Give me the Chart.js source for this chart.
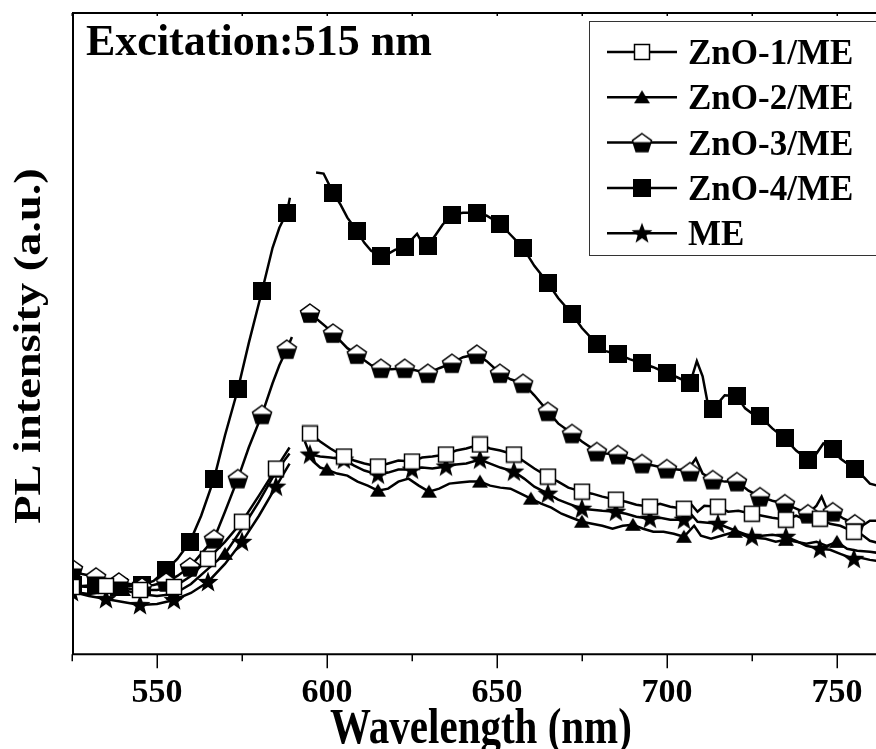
<!DOCTYPE html>
<html>
<head>
<meta charset="utf-8">
<script src="https://cdn.jsdelivr.net/npm/chart.js@4/dist/chart.umd.min.js"></script>
<style>
  body { margin: 0; background: #fff; }
  canvas { display: block; }
</style>
</head>
<body>
<canvas id="plChart" width="876" height="749"></canvas>
<script>
// PL spectra, excitation 515 nm. Intensity in arbitrary units.
var tickLabels = [550, 600, 650, 700, 750];
var seriesNames = ['ZnO-1/ME', 'ZnO-2/ME', 'ZnO-3/ME', 'ZnO-4/ME', 'ME'];

// ZnO-4/ME
var wlZnO4 = [525.3, 528, 532, 535, 539, 542, 545.6, 549, 552.7, 556,
  559.7, 563, 566.8, 570, 573.8, 577, 580.9, 584, 586, 588.2,
  589.1, 592, 596.8, 599, 601.8, 604, 606, 608.8, 611, 613,
  615.9, 618, 620, 622.9, 626.5, 628, 629.7, 632, 634, 636.8,
  640, 644.1, 647, 650.9, 654, 657.7, 661, 665, 668, 672.1,
  675, 679.4, 682, 685.6, 689, 692.7, 696, 700, 703, 706.8,
  708.8, 710.5, 712, 713.5, 717, 720.6, 723, 725, 727.4, 731,
  734.7, 738, 741.5, 744, 746, 748.8, 751, 753, 755.3, 757.5,
  759.7, 762];
var plZnO4 = [70, 68, 69, 66, 67, 68, 69, 73, 84, 95,
  112, 138, 175, 218, 264, 310, 362, 405, 425, 440,
  455, null, 480, 479, 460, 448, 435, 422, 410, 402,
  397, 399, 403, 406, 419, 410, 407, 418, 428, 438,
  440, 440, 437, 429, 418, 405, 387, 370, 355, 339,
  325, 309, 302, 299, 294, 290, 286, 280, 276, 270,
  292, 277, 250, 244, 258, 257, 245, 240, 237, 225,
  215, 203, 194, 200, 210, 204, 195, 190, 185, 178,
  170, 168];
var mkWlZnO4 = [525.3, 532.1, 538.8, 545.6, 552.7, 559.7, 566.8, 573.8, 580.9, 588.2,
  601.8, 608.8, 615.9, 622.9, 629.7, 636.8, 644.1, 650.9, 657.7, 665,
  672.1, 679.4, 685.6, 692.7, 700, 706.8, 713.5, 720.6, 727.4, 734.7,
  741.5, 748.8, 755.3];
var mkPlZnO4 = [69, 69, 67, 69, 84, 112, 175, 264, 362, 440,
  460, 422, 397, 406, 407, 438, 440, 429, 405, 370,
  339, 309, 299, 290, 280, 270, 244, 257, 237, 215,
  194, 204, 185];

// ZnO-3/ME
var wlZnO3 = [525.3, 528, 532.1, 535, 538.8, 542, 545.6, 549, 552.7, 556,
  559.7, 563, 566.8, 570, 573.8, 577, 580.9, 584, 586, 588.2,
  589.7, 592, 594, 595, 597, 599.5, 601.8, 604, 606, 608.8,
  611, 613, 615.9, 619, 622.9, 626, 629.7, 633, 636.8, 640,
  644.1, 647, 650.9, 654, 657.7, 661, 665, 668, 672.1, 675,
  679.4, 682, 685.6, 689, 692.7, 696, 700, 703, 706, 708.5,
  710.5, 713.5, 717, 720.6, 724, 727.4, 731, 734.7, 738, 741.5,
  744, 745.5, 747, 748.8, 752, 755.3, 757.5, 759.7, 762];
var plZnO3 = [83, 80, 77, 75, 72, 70, 68, 69, 72, 78,
  87, 100, 115, 142, 175, 206, 239, 270, 288, 304,
  316, null, 340, 340, 334, 327, 320, 312, 305, 299,
  293, 288, 285, 284, 285, 283, 280, 285, 290, 296,
  299, 292, 280, 274, 270, 258, 242, 230, 220, 212,
  202, 200, 199, 195, 190, 188, 185, 184, 183, 195,
  180, 174, 172, 172, 163, 157, 153, 150, 145, 140,
  148, 157, 145, 142, 135, 130, 128, 133, 133];
var mkWlZnO3 = [525.3, 532.1, 538.8, 545.6, 552.7, 559.7, 566.8, 573.8, 580.9, 588.2,
  595, 601.8, 608.8, 615.9, 622.9, 629.7, 636.8, 644.1, 650.9, 657.7,
  665, 672.1, 679.4, 685.6, 692.7, 700, 706.8, 713.5, 720.6, 727.4,
  734.7, 741.5, 748.8, 755.3];
var mkPlZnO3 = [85, 77, 72, 67, 72, 87, 115, 175, 239, 304,
  340, 320, 299, 285, 285, 280, 290, 299, 280, 270,
  242, 220, 202, 199, 190, 185, 182, 174, 172, 157,
  150, 140, 142, 130];

// ZnO-1/ME
var wlZnO1 = [525.3, 530, 535, 540, 545, 550, 555, 560, 565, 570,
  575, 580, 585, 589, 592, 594, 595, 598, 601, 605,
  608, 611, 615, 618, 621, 625, 628, 631, 635, 638,
  641, 645, 648, 651, 655, 658, 661, 665, 668, 671,
  675, 678, 681, 685, 688, 691, 695, 698, 701, 705,
  707, 709, 711, 715, 718, 721, 725, 728, 731, 735,
  738, 740, 742, 745, 748, 751, 755, 757, 759.7, 762];
var plZnO1 = [68, 67, 68, 66, 64, 64, 67, 78, 95, 112,
  132, 158, 185, 206, null, 224, 220, 212, 205, 197,
  193, 190, 187, 190, 193, 192, 196, 197, 199, 203,
  205, 209, 205, 203, 199, 192, 185, 177, 172, 166,
  162, 160, 157, 154, 152, 149, 147, 150, 147, 145,
  150, 142, 148, 147, 142, 143, 140, 138, 136, 134,
  138, 135, 143, 135, 130, 128, 122, 120, 113, 111];
var mkWlZnO1 = [525, 535, 545, 555, 565, 575, 585, 595, 605, 615,
  625, 635, 645, 655, 665, 675, 685, 695, 705, 715,
  725, 735, 745, 755];
var mkPlZnO1 = [67, 68, 64, 67, 95, 132, 185, 220, 197, 187,
  192, 199, 209, 199, 177, 162, 154, 147, 145, 147,
  140, 134, 135, 122];

// ZnO-2/ME
var wlZnO2 = [525.3, 530, 535, 540, 545, 550, 555, 560, 565, 570,
  575, 580, 585, 589, 592, 594, 596, 598, 600, 603,
  606, 609, 612, 615, 618, 621, 624, 627, 630, 633,
  636, 639, 642, 645, 648, 651, 654, 657, 660, 663,
  666, 669, 672, 675, 678, 681, 684, 687, 690, 693,
  696, 699, 702, 705, 708, 710, 713, 716, 720, 723,
  726, 729, 732, 735, 738, 741, 744, 747, 750, 753,
  756, 759.7, 762];
var plZnO2 = [62, 60, 62, 64, 60, 58, 60, 70, 85, 100,
  125, 152, 182, 200, null, 200, 192, 186, 184, 180,
  178, 172, 168, 163, 165, 172, 175, 168, 162, 165,
  170, 171, 172, 172, 168, 166, 165, 160, 155, 150,
  146, 140, 136, 132, 130, 128, 125, 128, 129, 125,
  122, 122, 120, 117, 128, 118, 115, 118, 122, 118,
  116, 115, 112, 114, 112, 110, 112, 108, 112, 105,
  103, 102, 101];
var mkWlZnO2 = [540, 555, 570, 585, 600, 615, 630, 645, 660, 675,
  690, 705, 720, 735, 750];
var mkPlZnO2 = [64, 60, 100, 182, 184, 163, 162, 172, 155, 132,
  129, 117, 122, 114, 112];

// ME
var wlME = [525.3, 530, 535, 540, 545, 550, 555, 560, 565, 570,
  575, 580, 585, 589, 591, 593.5, 595, 598, 601, 605,
  608, 611, 615, 618, 621, 625, 628, 631, 635, 638,
  641, 645, 648, 651, 655, 658, 661, 665, 668, 671,
  675, 678, 681, 685, 688, 691, 695, 698, 701, 705,
  707, 709, 712, 715, 718, 721, 725, 728, 731, 735,
  738, 741, 745, 748, 751, 755, 757, 759.7, 762];
var plME = [62, 58, 55, 52, 49, 50, 54, 61, 72, 90,
  112, 138, 167, 190, null, 212, 199, 197, 196, 194,
  188, 183, 179, 181, 184, 184, 186, 185, 187, 189,
  190, 194, 190, 186, 182, 175, 167, 160, 154, 150,
  145, 144, 143, 142, 140, 137, 135, 136, 134, 134,
  140, 132, 131, 130, 126, 122, 117, 118, 119, 117,
  113, 108, 105, 104, 100, 95, 96, 94, 93];
var mkWlME = [525, 535, 545, 555, 565, 575, 585, 595, 605, 615,
  625, 635, 645, 655, 665, 675, 685, 695, 705, 715,
  725, 735, 745, 755];
var mkPlME = [62, 55, 49, 54, 72, 112, 167, 199, 194, 179,
  184, 187, 194, 182, 160, 145, 142, 135, 134, 130,
  117, 117, 105, 95];

var FONT = '"Liberation Serif", "Times New Roman", serif';

// marker glyphs drawn once on small canvases, used as pointStyle
function makeMarker(size, draw) {
  var c = document.createElement('canvas');
  c.width = size; c.height = size;
  draw(c.getContext('2d'), size);
  return c;
}
var openSquare = makeMarker(18, function (g) {
  g.fillStyle = '#fff'; g.fillRect(1, 1, 16, 16);
  g.strokeStyle = '#000'; g.lineWidth = 1.5; g.strokeRect(1.5, 1.5, 15, 15);
});
var fullTriangle = makeMarker(18, function (g) {
  g.fillStyle = '#000';
  g.beginPath(); g.moveTo(9, 2); g.lineTo(17, 15); g.lineTo(1, 15); g.closePath(); g.fill();
});
var halfPentagon = makeMarker(22, function (g) {
  var cx = 11, cy = 12, r = 10;
  g.beginPath();
  for (var k = 0; k < 5; k++) {
    var a = -Math.PI / 2 + k * 2 * Math.PI / 5;
    var px = cx + r * Math.cos(a), py = cy + r * Math.sin(a);
    if (k === 0) g.moveTo(px, py); else g.lineTo(px, py);
  }
  g.closePath();
  g.fillStyle = '#fff'; g.fill();
  g.save(); g.clip();
  g.fillStyle = '#000'; g.fillRect(0, 10.5, 22, 12);
  g.restore();
  g.strokeStyle = '#000'; g.lineWidth = 1.5; g.stroke();
});
var fullSquare = makeMarker(18, function (g) {
  g.fillStyle = '#000'; g.fillRect(0, 0, 18, 18);
});
var fullStar = makeMarker(22, function (g) {
  g.fillStyle = '#000';
  g.beginPath();
  for (var k = 0; k < 10; k++) {
    var a = -Math.PI / 2 + k * Math.PI / 5;
    var r = k % 2 === 0 ? 11 : 4.6;
    var px = 11 + r * Math.cos(a), py = 11.5 + r * Math.sin(a);
    if (k === 0) g.moveTo(px, py); else g.lineTo(px, py);
  }
  g.closePath(); g.fill();
});
var markers = [openSquare, fullTriangle, halfPentagon, fullSquare, fullStar];

function pts(xs, ys) {
  return xs.map(function (x, i) { return { x: x, y: ys[i] }; });
}

var lineSets = [[wlZnO1, plZnO1], [wlZnO2, plZnO2], [wlZnO3, plZnO3], [wlZnO4, plZnO4], [wlME, plME]];
var markSets = [[mkWlZnO1, mkPlZnO1], [mkWlZnO2, mkPlZnO2], [mkWlZnO3, mkPlZnO3], [mkWlZnO4, mkPlZnO4], [mkWlME, mkPlME]];

var datasets = [];
seriesNames.forEach(function (name, i) {
  datasets.push({
    label: name,
    data: pts(lineSets[i][0], lineSets[i][1]),
    showLine: true,
    borderColor: '#000',
    borderWidth: 2.5,
    pointRadius: 0,
    spanGaps: false,
    clip: 0,
    order: 2
  });
  datasets.push({
    label: name + ' markers',
    data: pts(markSets[i][0], markSets[i][1]),
    showLine: false,
    pointStyle: markers[i],
    pointRadius: 9,
    clip: 0,
    order: 1
  });
});

function drawText(ctx, text, x, y, size, sx, sy, rot, align) {
  ctx.save();
  ctx.translate(x, y);
  if (rot) ctx.rotate(rot);
  ctx.scale(sx, sy);
  ctx.font = 'bold ' + size + 'px ' + FONT;
  ctx.fillStyle = '#000';
  ctx.textAlign = align;
  ctx.textBaseline = 'alphabetic';
  ctx.fillText(text, 0, 0);
  ctx.restore();
}

// frame, tick marks, titles, annotation and legend box
var decorations = {
  id: 'decorations',
  afterDraw: function (chart) {
    var ctx = chart.ctx, a = chart.chartArea, xs = chart.scales.x;
    ctx.save();
    ctx.strokeStyle = '#000';
    ctx.lineWidth = 2;
    ctx.beginPath();
    ctx.moveTo(a.left, a.bottom); ctx.lineTo(a.left, a.top);
    ctx.moveTo(a.left - 1, a.top); ctx.lineTo(a.right, a.top);
    ctx.moveTo(a.left - 1, a.bottom); ctx.lineTo(a.right, a.bottom);
    ctx.stroke();
    ctx.lineWidth = 1.5;
    ctx.beginPath();
    for (var v = 525; v <= 760; v += 25) {
      var px = Math.round(xs.getPixelForValue(v)) + 0.25;
      var len = v % 50 === 0 ? 14 : 7;
      ctx.moveTo(px, a.bottom); ctx.lineTo(px, a.bottom + len);
      ctx.moveTo(px, a.top); ctx.lineTo(px, a.top + 3);
    }
    ctx.stroke();
    ctx.restore();

    drawText(ctx, 'Excitation:515 nm', 86, 55, 44, 1, 1, 0, 'left');
    drawText(ctx, 'Wavelength (nm)', 481, 743, 41, 1, 1.22, 0, 'center');
    drawText(ctx, 'PL intensity (a.u.)', 40, 346, 38, 1.22, 1, -Math.PI / 2, 'center');

    // legend
    ctx.save();
    ctx.strokeStyle = '#333';
    ctx.lineWidth = 1;
    ctx.strokeRect(589.5, 21.5, 300, 234);
    seriesNames.forEach(function (name, i) {
      var ry = 52 + i * 45.3;
      ctx.strokeStyle = '#000';
      ctx.lineWidth = 2.5;
      ctx.beginPath(); ctx.moveTo(607, ry); ctx.lineTo(677, ry); ctx.stroke();
      var m = markers[i];
      ctx.drawImage(m, 642 - m.width / 2, ry - m.height / 2);
      drawText(ctx, name, 688, ry + 12, 35, 1, 1, 0, 'left');
    });
    ctx.restore();
  }
};

Chart.defaults.font.family = FONT;
Chart.defaults.color = '#000';

var ctxPL = document.getElementById('plChart').getContext('2d');
var plChart = new Chart(ctxPL, {
  type: 'scatter',
  data: { datasets: datasets },
  options: {
    responsive: false,
    animation: false,
    layout: { autoPadding: false, padding: { left: 73, top: 13, right: 0, bottom: 16 } },
    plugins: {
      legend: { display: false },
      tooltip: { enabled: false }
    },
    scales: {
      x: {
        type: 'linear',
        min: 525.3,
        max: 761.5,
        grid: { display: false, drawTicks: false },
        border: { display: false },
        ticks: {
          padding: 19,
          maxRotation: 0,
          color: '#000',
          font: { size: 34, weight: 'bold' }
        },
        afterBuildTicks: function (scale) {
          scale.ticks = tickLabels.map(function (v) { return { value: v }; });
        },
        afterFit: function (scale) {
          scale.paddingLeft = 0;
          scale.paddingRight = 0;
        }
      },
      y: {
        display: false,
        min: 0,
        max: 639
      }
    }
  },
  plugins: [decorations]
});
</script>
</body>
</html>
